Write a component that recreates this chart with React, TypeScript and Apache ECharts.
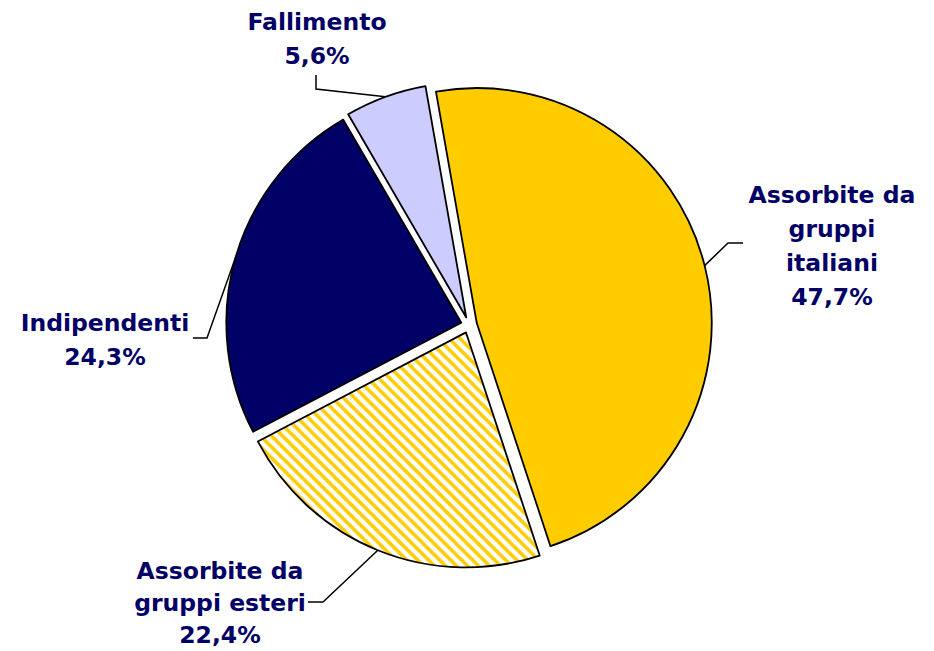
import React, { useEffect, useRef } from "react";
import * as echarts from "echarts";

const categories = [
  "Assorbite da gruppi italiani",
  "Assorbite da gruppi esteri",
  "Indipendenti",
  "Fallimento",
];
const labelNames = [
  "Assorbite da\ngruppi\nitaliani",
  "Assorbite da\ngruppi esteri",
  "Indipendenti",
  "Fallimento",
];
const values = [47.7, 22.4, 24.3, 5.6];

const sliceColors = ["#FFCC00", "hatch", "#000066", "#CCCCFF"];

const PIE_CENTER = [469, 325];
const EXPLODE = 8;

// label block centres, line heights and leader elbows / ends (annotation layout)
const labelLayoutCfg = [
  { x: 832, y: 246, lh: 34, elbow: [728, 243], end: [743, 243] },
  { x: 220, y: 603, lh: 32, elbow: [323, 602], end: [308, 602] },
  { x: 105, y: 340, lh: 34, elbow: [207, 338], end: [193, 338] },
  { x: 317, y: 39, lh: 34, elbow: [316, 89], end: [316, 75] },
];

function makeHatch(): HTMLCanvasElement {
  const p = 11;
  const c = document.createElement("canvas");
  c.width = p;
  c.height = p;
  const ctx = c.getContext("2d")!;
  ctx.fillStyle = "#FFFFFF";
  ctx.fillRect(0, 0, p, p);
  ctx.strokeStyle = "#FFCC00";
  ctx.lineWidth = 3.6;
  for (let k = -1; k <= 1; k++) {
    ctx.beginPath();
    ctx.moveTo(k * p - 2, -2);
    ctx.lineTo(k * p + p + 2, p + 2);
    ctx.stroke();
  }
  return c;
}

export default function App() {
  const ref = useRef<HTMLDivElement>(null);
  useEffect(() => {
    document.body.style.margin = "0";
    const chart = echarts.init(ref.current!, undefined, { renderer: "svg" });
    const hatch = makeHatch();
    const data = categories.map((name, i) => ({
      name,
      value: values[i],
      selected: true,
      label: { lineHeight: labelLayoutCfg[i].lh },
      itemStyle: {
        color:
          sliceColors[i] === "hatch"
            ? { image: hatch, repeat: "repeat" }
            : sliceColors[i],
      },
    }));
    chart.setOption({
      animation: false,
      backgroundColor: "#FFFFFF",
      series: [
        {
          type: "pie",
          center: PIE_CENTER,
          radius: 235,
          startAngle: 100,
          clockwise: true,
          selectedMode: "multiple",
          selectedOffset: EXPLODE,
          avoidLabelOverlap: false,
          emphasis: { disabled: true },
          itemStyle: { borderColor: "#000000", borderWidth: 1.8 },
          label: {
            show: true,
            formatter: (p: any) =>
              labelNames[p.dataIndex] +
              "\n" +
              values[p.dataIndex].toFixed(1).replace(".", ",") +
              "%",
            fontFamily: "DejaVu Sans",
            fontWeight: "bold",
            fontSize: 23.5,
            lineHeight: 34,
            color: "#000066",
            align: "center",
          },
          labelLine: {
            show: true,
            length: 20,
            length2: 15,
            lineStyle: { color: "#000000", width: 1.5 },
          },
          labelLayout: (params: any) => {
            const cfg = labelLayoutCfg[params.dataIndex];
            const r = params.labelRect;
            const pts = params.labelLinePoints;
            const start = pts && pts[0] ? pts[0] : cfg.elbow;
            // select-state offset applied later by the pie (explosion)
            const ang = Math.atan2(start[1] - PIE_CENTER[1], start[0] - PIE_CENTER[0]);
            const ox = EXPLODE * Math.cos(ang);
            const oy = EXPLODE * Math.sin(ang);
            const anchorX =
              params.align === "left"
                ? r.x
                : params.align === "right"
                ? r.x + r.width
                : r.x + r.width / 2;
            return {
              dx: cfg.x - ox - anchorX,
              dy: cfg.y - oy - (r.y + r.height / 2),
              align: "center",
              labelLinePoints: [
                start,
                [cfg.elbow[0] - ox, cfg.elbow[1] - oy],
                [cfg.end[0] - ox, cfg.end[1] - oy],
              ],
            };
          },
          data,
        },
      ],
    });
    return () => chart.dispose();
  }, []);
  return <div ref={ref} style={{ width: 934, height: 651 }} />;
}
